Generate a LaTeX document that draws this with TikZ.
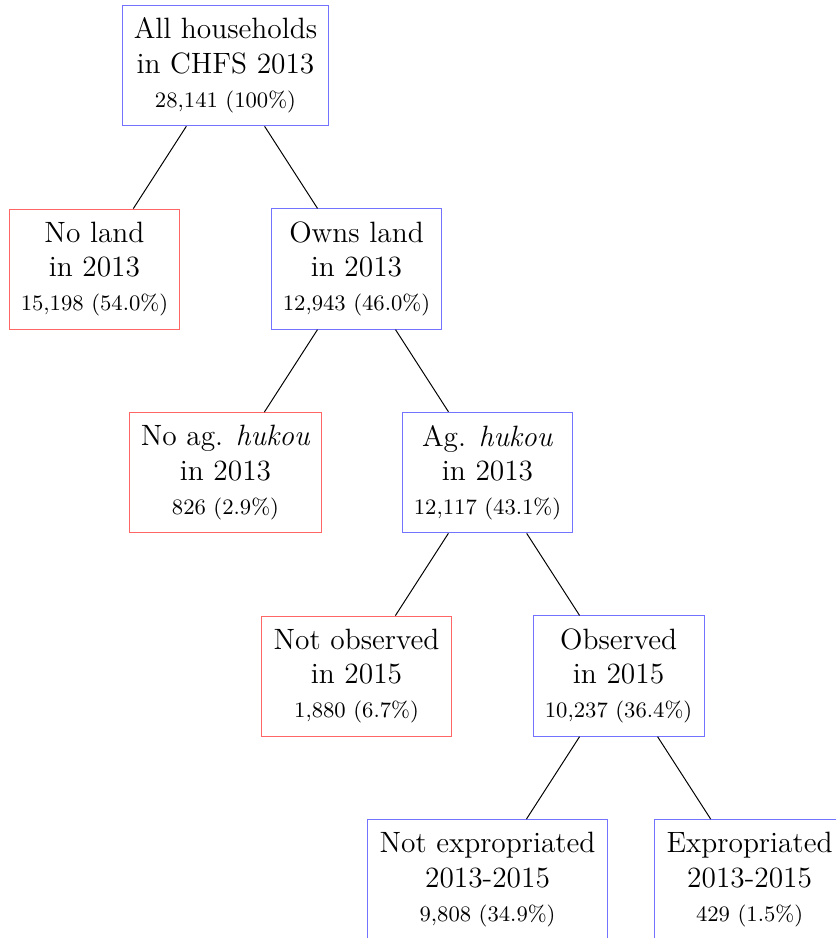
\documentclass[tikz,border=0pt]{standalone}
\usepackage{tikz}

\begin{document}
\begin{tikzpicture}
            \tikzstyle{kept}=[draw=blue!55, align=center, font=\large, inner xsep=4.8pt, inner ysep=5.2pt]
            \tikzstyle{dropped}=[draw=red!60, align=center, font=\large, inner xsep=4.8pt, inner ysep=5.2pt]
            \useasboundingbox (-3.235,-12.518) rectangle (8.759,0.940);
            % sample selection, one level per step
            \node[kept] (all) at (0,0) {All households\\in CHFS 2013\\{\small 28,141 (100\%)}};
            \node[dropped] (noland) at (-1.88,-2.92) {No land\\in 2013\\{\small 15,198 (54.0\%)}};
            \node[kept] (ownsland) at (1.88,-2.92) {Owns land\\in 2013\\{\small 12,943 (46.0\%)}};
            \node[dropped] (nohukou) at (0,-5.84) {No ag. \textit{hukou}\\in 2013\\{\small 826 (2.9\%)}};
            \node[kept] (aghukou) at (3.76,-5.84) {Ag. \textit{hukou}\\in 2013\\{\small 12,117 (43.1\%)}};
            \node[dropped] (notobs) at (1.88,-8.76) {Not observed\\in 2015\\{\small 1,880 (6.7\%)}};
            \node[kept] (obs) at (5.64,-8.76) {Observed\\in 2015\\{\small 10,237 (36.4\%)}};
            \node[kept] (notexp) at (3.76,-11.68) {Not expropriated\\2013-2015\\{\small 9,808 (34.9\%)}};
            \node[kept] (exp) at (7.52,-11.68) {Expropriated\\2013-2015\\{\small 429 (1.5\%)}};
            % edges
            \draw (all) -- (noland);
            \draw (all) -- (ownsland);
            \draw (ownsland) -- (nohukou);
            \draw (ownsland) -- (aghukou);
            \draw (aghukou) -- (notobs);
            \draw (aghukou) -- (obs);
            \draw (obs) -- (notexp);
            \draw (obs) -- (exp);
\end{tikzpicture}
\end{document}
